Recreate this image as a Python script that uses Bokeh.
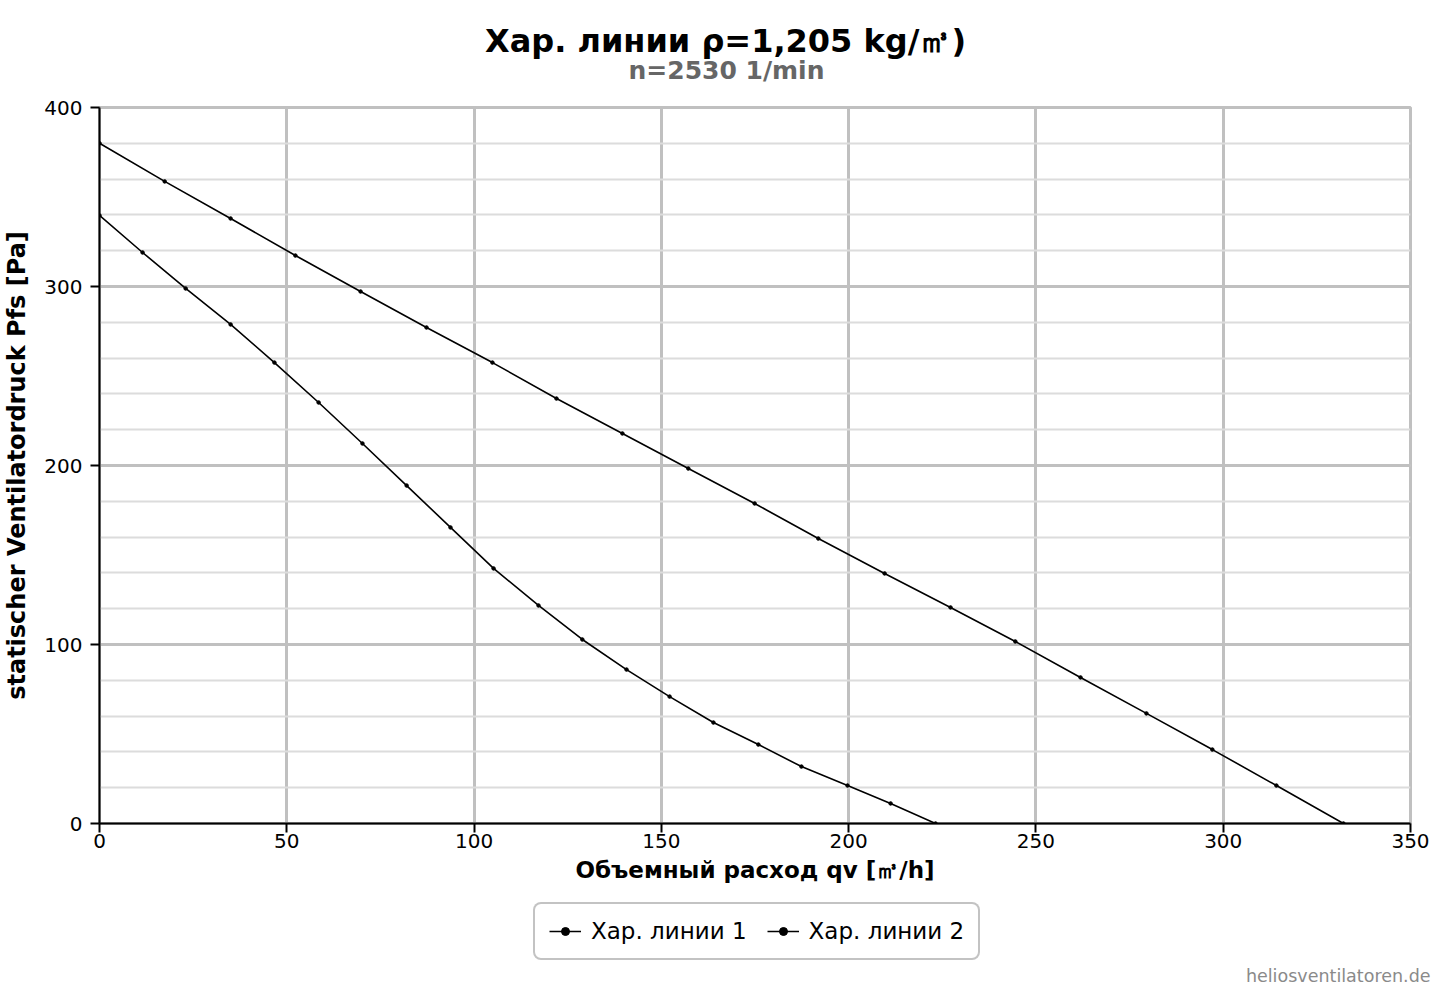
from bokeh.plotting import figure
from bokeh.layouts import column, row
from bokeh.models import Range1d, SingleIntervalTicker, Label, Legend, LegendItem
from bokeh.embed import file_html
from bokeh.resources import INLINE

# Data
q1 = [0, 17.4, 35.0, 52.3, 69.7, 87.3, 104.9, 122.0, 139.6, 157.2, 174.9, 191.9,
      209.6, 227.2, 244.5, 261.9, 279.5, 297.1, 314.2, 332.1]
p1 = [380, 358.7, 338.0, 317.3, 297.2, 277.1, 257.5, 237.4, 217.9, 198.3, 178.8,
      159.2, 139.7, 120.7, 101.7, 81.6, 61.5, 41.3, 21.2, 0]
q2 = [0, 11.5, 23.0, 35.0, 46.7, 58.5, 70.2, 82.0, 93.7, 105.2, 117.2, 128.9,
      140.7, 152.2, 163.9, 175.9, 187.4, 199.7, 211.2, 223.2]
p2 = [339.7, 319.0, 298.9, 278.8, 257.5, 235.2, 212.3, 188.8, 165.4, 142.5, 121.8,
      102.8, 86.0, 70.9, 56.4, 44.1, 31.8, 21.2, 11.2, 0]
series_names = ["Хар. линии 1", "Хар. линии 2"]

title_text = "Хар. линии ρ=1,205 kg/㎥)"
subtitle_text = "n=2530 1/min"
x_label = "Объемный расход qv [㎥/h]"
y_label = "statischer Ventilatordruck Pfs [Pa]"
credit = "heliosventilatoren.de"

FONT = "DejaVu Sans"
W = 1450
HEAD_H = 95
FOOT_H = 92
MAIN_H = 992 - HEAD_H - FOOT_H


def blank(height, y0, y1):
    f = figure(width=W, height=height, output_backend="svg", toolbar_location=None,
               x_range=Range1d(0, W), y_range=Range1d(y1, y0),
               min_border=0, min_border_left=0, min_border_right=0,
               min_border_top=0, min_border_bottom=0)
    f.title = None
    f.xaxis.visible = False
    f.yaxis.visible = False
    f.grid.visible = False
    f.outline_line_color = None
    f.background_fill_color = "white"
    f.border_fill_color = "white"
    return f


# ---- header (title + subtitle) ----
head = blank(HEAD_H, 0, HEAD_H)
head.add_layout(Label(x=725, y=40, text=title_text, text_align="center", text_baseline="middle",
                      text_font=FONT, text_font_size="32px", text_font_style="bold",
                      text_color="black"))
head.add_layout(Label(x=726, y=70, text=subtitle_text, text_align="center", text_baseline="middle",
                      text_font=FONT, text_font_size="25px", text_font_style="bold",
                      text_color="#666666"))

# ---- main chart ----
p = figure(width=W, height=MAIN_H, output_backend="svg", toolbar_location=None,
           x_range=Range1d(0, 350), y_range=Range1d(0, 400),
           min_border_left=99, min_border_right=40, min_border_top=12,
           min_border_bottom=MAIN_H - 12 - 716)
p.title = None
p.background_fill_color = "white"
p.border_fill_color = "white"
p.outline_line_color = "#c0c0c0"
p.outline_line_width = 3

p.xaxis.ticker = SingleIntervalTicker(interval=50, num_minor_ticks=0)
p.yaxis.ticker = SingleIntervalTicker(interval=100, num_minor_ticks=5)

for ax in (p.xaxis, p.yaxis):
    ax.axis_line_color = "black"
    ax.axis_line_width = 2
    ax.major_tick_line_color = "black"
    ax.major_tick_line_width = 2
    ax.major_tick_out = 9
    ax.major_tick_in = 0
    ax.minor_tick_line_color = None
    ax.major_label_text_font = FONT
    ax.major_label_text_font_size = "20px"
    ax.major_label_text_color = "black"
    ax.axis_label_text_font = FONT
    ax.axis_label_text_font_style = "bold"
    ax.axis_label_text_color = "black"

p.xaxis.axis_label = x_label
p.yaxis.axis_label = y_label
p.xaxis.axis_label_text_font_size = "23px"
p.yaxis.axis_label_text_font_size = "24px"
p.xaxis.major_label_standoff = 1
p.xaxis.axis_label_standoff = 6
p.yaxis.major_label_standoff = 8
p.yaxis.axis_label_standoff = 10

p.xgrid.grid_line_color = "#c0c0c0"
p.xgrid.grid_line_width = 3
p.ygrid.grid_line_color = "#c0c0c0"
p.ygrid.grid_line_width = 3
p.ygrid.minor_grid_line_color = "#dcdcdc"
p.ygrid.minor_grid_line_width = 2

p.line(q1, p1, line_color="black", line_width=1.6)
p.scatter(q1, p1, size=3.5, marker="circle", fill_color="black", line_color="black")
p.line(q2, p2, line_color="black", line_width=1.6)
p.scatter(q2, p2, size=3.5, marker="circle", fill_color="black", line_color="black")

# ---- footer (legend + credit) ----
foot = blank(FOOT_H, 900, 992)
# legend swatches: renderers styled like the series, with a point placed off-canvas
ll1 = foot.line([-500], [-500], line_color="black", line_width=1.6)
ls1 = foot.scatter([-500], [-500], size=2.5, marker="circle", fill_color="black", line_color="black")
ll2 = foot.line([-500], [-500], line_color="black", line_width=1.6)
ls2 = foot.scatter([-500], [-500], size=2.5, marker="circle", fill_color="black", line_color="black")

legend = Legend(items=[LegendItem(label=series_names[0], renderers=[ll1, ls1]),
                       LegendItem(label=series_names[1], renderers=[ll2, ls2])],
                orientation="horizontal", location=(533, 32))
legend.label_text_font = FONT
legend.label_text_font_size = "23px"
legend.label_text_color = "black"
legend.border_line_color = "#888888"
legend.border_line_width = 2
legend.border_radius = 8
legend.glyph_width = 32
legend.glyph_height = 20
legend.label_standoff = 10
legend.spacing = 20
legend.padding = 14
legend.margin = 0
legend.background_fill_color = "white"
foot.add_layout(legend, "center")

foot.add_layout(Label(x=1430, y=975, text=credit, text_align="right", text_baseline="middle",
                      text_font=FONT, text_font_size="17.5px", text_color="#8a8a8a"))

layout = column(row(head), p, row(foot), spacing=0)
open("out.html", "w").write(file_html(layout, INLINE))
